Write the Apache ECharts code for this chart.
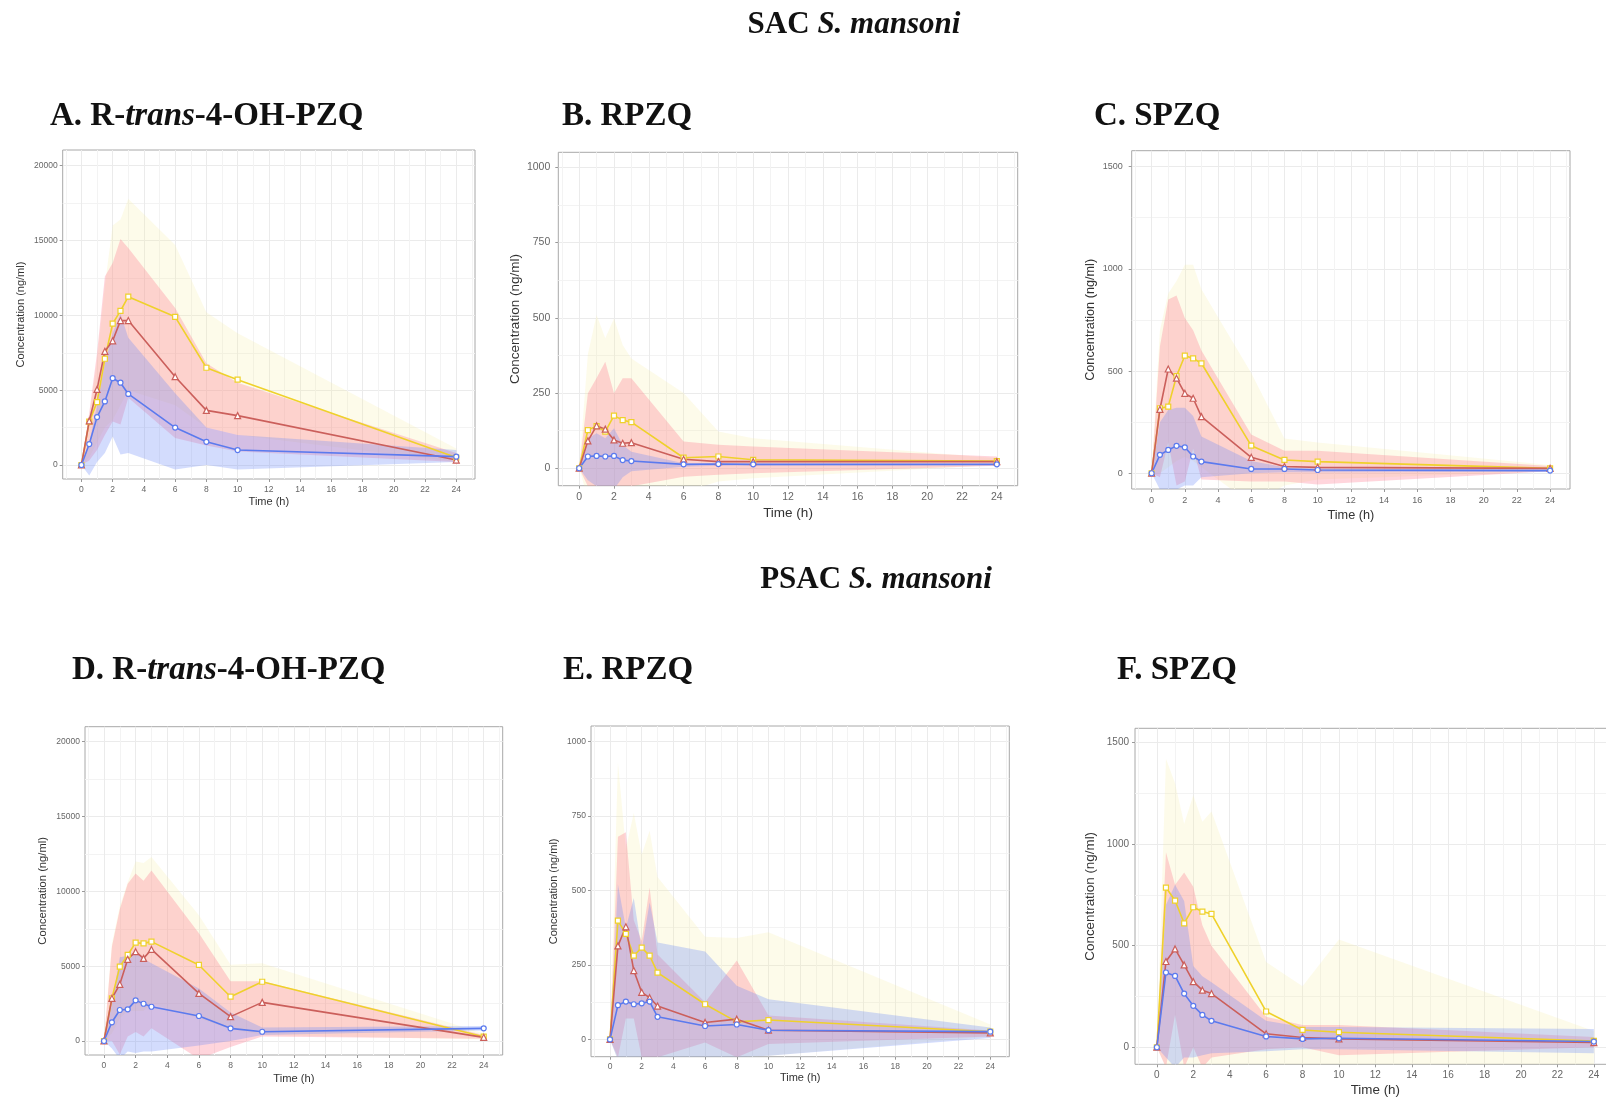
<!DOCTYPE html>
<html>
<head>
<meta charset="utf-8">
<title>SAC / PSAC S. mansoni</title>
<script src="https://cdn.jsdelivr.net/npm/echarts@6.0.0/dist/echarts.min.js"></script>
<style>
  html, body { margin: 0; padding: 0; background: #fff; }
  #chart { width: 1606px; height: 1099px; }
</style>
</head>
<body>
<div id="chart"></div>
<script>
// sampling times (h)
const time = [0, 0.5, 1, 1.5, 2, 2.5, 3, 6, 8, 10, 24]

// axis breaks
const xTicks = [0, 2, 4, 6, 8, 10, 12, 14, 16, 18, 20, 22, 24]
const xMinor = [-1, 1, 3, 5, 7, 9, 11, 13, 15, 17, 19, 21, 23, 25]
const yTicksOH = [0, 5000, 10000, 15000, 20000]
const yMinorOH = [2500, 7500, 12500, 17500]
const yTicksR = [0, 250, 500, 750, 1000]
const yMinorR = [125, 375, 625, 875]
const yTicksS = [0, 500, 1000, 1500]
const yMinorS = [250, 750, 1250]

// A. R-trans-4-OH-PZQ (SAC)
const aYellow = [0, 2900, 4200, 7100, 9450, 10300, 11250, 9900, 6500, 5700, 500]
const aRed = [0, 2950, 5050, 7600, 8300, 9650, 9650, 5900, 3650, 3300, 330]
const aBlue = [0, 1400, 3200, 4250, 5800, 5500, 4750, 2500, 1550, 1000, 560]
const aYellowLo = [0, 500, 1500, 2500, 3000, 4000, 5000, 4000, 2500, 2000, 200]
const aYellowHi = [0, 3200, 7000, 12000, 16000, 16400, 17800, 14700, 10200, 8800, 1100]
const aRedLo = [0, 300, 1000, 2000, 2900, 2700, 4500, 1800, 1300, 900, 200]
const aRedHi = [0, 3500, 7500, 12600, 13500, 15100, 14500, 10500, 6800, 5500, 800]
const aBlueLo = [0, -700, 200, 800, 1900, 700, 800, -300, 0, -300, 200]
const aBlueHi = [0, 1500, 4000, 6800, 8800, 10100, 8500, 4800, 2500, 2000, 1000]

// B. RPZQ (SAC)
const bYellow = [0, 127, 140, 122, 175, 160, 153, 35, 39, 28, 24]
const bRed = [0, 91, 141, 130, 94, 83, 85, 30, 22, 22, 22]
const bBlue = [0, 39, 41, 39, 41, 27, 24, 13, 14, 13, 13]
const bYellowLo = [0, -100, -100, -100, -100, -100, -100, -80, -44, -33, 11]
const bYellowHi = [0, 380, 509, 432, 498, 410, 365, 250, 122, 100, 33]
const bRedLo = [0, -60, -60, -60, -60, -60, -60, -28, -22, -17, 8]
const bRedHi = [0, 249, 300, 354, 249, 299, 299, 89, 78, 72, 39]
const bBlueLo = [0, -40, -60, -70, -70, -30, -10, 5, 8, 9, 10]
const bBlueHi = [0, 100, 116, 100, 133, 77, 55, 17, 16, 15, 15]

// C. SPZQ (SAC)
const cYellow = [0, 318, 326, 475, 575, 562, 538, 135, 65, 57, 24]
const cRed = [0, 313, 510, 465, 391, 367, 277, 78, 33, 29, 24]
const cBlue = [0, 90, 114, 134, 127, 82, 57, 21, 21, 16, 13]
const cYellowLo = [0, 0, 30, 60, 80, 60, 30, -150, -60, -30, 10]
const cYellowHi = [0, 700, 880, 940, 1020, 1020, 900, 490, 170, 150, 40]
const cRedLo = [0, -20, 150, -60, -40, 120, -30, -40, -40, -55, 10]
const cRedHi = [0, 620, 850, 870, 760, 700, 600, 190, 110, 110, 35]
const cBlueLo = [0, -80, -100, -80, -60, -60, -20, 0, 5, 5, 8]
const cBlueHi = [0, 250, 310, 320, 320, 280, 180, 60, 30, 25, 18]

// D. R-trans-4-OH-PZQ (PSAC)
const dYellow = [0, 2850, 4970, 5750, 6570, 6525, 6640, 5080, 2960, 3960, 290]
const dRed = [0, 2850, 3790, 5460, 5970, 5520, 6120, 3180, 1630, 2580, 245]
const dBlue = [0, 1250, 2070, 2115, 2715, 2490, 2290, 1670, 845, 620, 845]
const dYellowLo = [0, 500, 1500, 2000, 2000, 2000, 2500, 1500, 800, 400, 100]
const dYellowHi = [0, 6500, 9000, 10600, 12000, 11900, 12300, 8400, 5100, 5200, 500]
const dRedLo = [0, 0, -900, 300, 600, 300, 850, -1200, -400, 300, 150]
const dRedHi = [0, 6300, 8800, 10500, 11200, 10700, 11400, 7200, 4000, 4000, 400]
const dBlueLo = [0, -500, -1200, -700, -800, -700, -700, -300, 0, 400, 700]
const dBlueHi = [0, 2500, 5600, 5700, 6000, 5500, 5200, 3500, 1900, 900, 1000]

// E. RPZQ (PSAC)
const eYellow = [0, 399, 354, 281, 308, 281, 224, 118, 59, 65, 26]
const eRed = [0, 314, 378, 231, 158, 140, 112, 57, 68, 31, 22]
const eBlue = [0, 115, 127, 118, 121, 127, 76, 45, 50, 31, 26]
const eYellowLo = [0, -70, -70, -70, -70, -70, -70, -70, -60, -55, 10]
const eYellowHi = [0, 930, 640, 760, 620, 700, 545, 345, 340, 360, 50]
const eRedLo = [0, -60, 70, 70, -60, -60, -60, -10, -60, -15, 10]
const eRedHi = [0, 680, 695, 400, 330, 510, 285, 125, 265, 80, 30]
const eBlueLo = [0, -70, -70, -70, -70, -70, -70, -70, -60, -55, 5]
const eBlueHi = [0, 520, 375, 475, 300, 460, 325, 295, 180, 135, 40]

// F. SPZQ (PSAC)
const fYellow = [0, 786, 722, 610, 689, 668, 656, 176, 85, 74, 31]
const fRed = [0, 422, 484, 405, 323, 281, 264, 66, 48, 41, 23]
const fBlue = [0, 368, 351, 264, 204, 159, 130, 53, 41, 44, 28]
const fYellowLo = [0, -100, -100, -100, -100, -100, -100, -100, -100, -100, -100]
const fYellowHi = [0, 1420, 1300, 1100, 1240, 1110, 1160, 420, 300, 530, 80]
const fRedLo = [0, -100, 160, -100, 0, -100, -50, -10, 0, -40, 0]
const fRedHi = [0, 960, 800, 860, 790, 600, 500, 150, 110, 110, 50]
const fBlueLo = [0, -50, -100, -50, -50, -40, -30, -20, -10, -10, -30]
const fBlueHi = [0, 700, 800, 720, 400, 350, 320, 130, 100, 100, 90]

const lineColor = { yellow: '#EFD12B', red: '#CB5F5B', blue: '#5B7AEE' }
const bandColor = {
  yellow: 'rgba(245,235,160,0.22)',
  red: 'rgba(255,115,140,0.30)',
  blue: 'rgba(110,140,250,0.30)',
}
const markers = { yellow: ['rect', 5], red: ['triangle', 6], blue: ['circle', 5] }

// layout of each panel (grid rect in px, y range, font sizes)
const panels = [
  { rect: [62.7, 150, 412.3, 329], y: [-935, 21050], yTicks: yTicksOH, yMinor: yMinorOH,
    tick: 8.5, name: 11, xGap: 17, yGap: 36, xMargin: 6, yMargin: 5,
    series: [aYellow, aRed, aBlue], bands: [[aYellowLo, aYellowHi], [aRedLo, aRedHi], [aBlueLo, aBlueHi]] },
  { rect: [558.3, 152.3, 459.4, 333.4], y: [-58, 1050], yTicks: yTicksR, yMinor: yMinorR,
    tick: 10.5, name: 13.5, xGap: 21, yGap: 36, xMargin: 6, yMargin: 8,
    series: [bYellow, bRed, bBlue], bands: [[bYellowLo, bYellowHi], [bRedLo, bRedHi], [bBlueLo, bBlueHi]] },
  { rect: [1131.7, 150.7, 438.3, 338.3], y: [-77, 1578], yTicks: yTicksS, yMinor: yMinorS,
    tick: 9, name: 12.7, xGap: 20, yGap: 35, xMargin: 7, yMargin: 9,
    series: [cYellow, cRed, cBlue], bands: [[cYellowLo, cYellowHi], [cRedLo, cRedHi], [cBlueLo, cBlueHi]] },
  { rect: [85, 726.7, 417.7, 328.3], y: [-935, 21000], yTicks: yTicksOH, yMinor: yMinorOH,
    tick: 8.5, name: 11.2, xGap: 18, yGap: 37, xMargin: 6, yMargin: 5,
    series: [dYellow, dRed, dBlue], bands: [[dYellowLo, dYellowHi], [dRedLo, dRedHi], [dBlueLo, dBlueHi]] },
  { rect: [591, 726, 418.3, 330.7], y: [-58, 1052], yTicks: yTicksR, yMinor: yMinorR,
    tick: 8.5, name: 11, xGap: 16, yGap: 32, xMargin: 5, yMargin: 5,
    series: [eYellow, eRed, eBlue], bands: [[eYellowLo, eYellowHi], [eRedLo, eRedHi], [eBlueLo, eBlueHi]] },
  { rect: [1135, 728.3, 480.7, 336], y: [-84, 1570], yTicks: yTicksS, yMinor: yMinorS,
    tick: 10, name: 13.4, xGap: 20, yGap: 38, xMargin: 6, yMargin: 6,
    series: [fYellow, fRed, fBlue], bands: [[fYellowLo, fYellowHi], [fRedLo, fRedHi], [fBlueLo, fBlueHi]] },
]

const groups = ['yellow', 'red', 'blue']
const sansFont = '"Liberation Sans", Arial, sans-serif'
const serifFont = '"Liberation Serif", "DejaVu Serif", serif'

const grid = []
const xAxis = []
const yAxis = []
const series = []

panels.forEach((p, i) => {
  grid.push({
    left: p.rect[0], top: p.rect[1], width: p.rect[2], height: p.rect[3],
    show: true, backgroundColor: '#fff', borderColor: '#a8a8a8', borderWidth: 1,
    containLabel: false, outerBoundsMode: 'none',
  })

  // main x axis: labels, ticks, major grid
  xAxis.push({
    type: 'value', gridIndex: i, min: -1.2, max: 25.2,
    name: 'Time (h)', nameLocation: 'middle', nameGap: p.xGap, nameMoveOverlap: false,
    nameTextStyle: { fontFamily: sansFont, fontSize: p.name, color: '#333' },
    axisLine: { show: false, onZero: false },
    axisTick: { show: true, length: 3, customValues: xTicks, lineStyle: { color: '#999' } },
    axisLabel: { customValues: xTicks, margin: p.xMargin, fontFamily: sansFont, fontSize: p.tick, color: '#666', formatter: v => String(v) },
    splitLine: { show: true, lineStyle: { color: '#ebebeb', width: 1 } },
  })
  // helper x axis: minor grid only
  xAxis.push({
    type: 'value', gridIndex: i, min: -1.2, max: 25.2,
    axisLine: { show: false, onZero: false },
    axisTick: { show: false, customValues: xMinor },
    axisLabel: { show: false },
    splitLine: { show: true, lineStyle: { color: '#f3f3f3', width: 1 } },
  })
  yAxis.push({
    type: 'value', gridIndex: i, min: p.y[0], max: p.y[1],
    name: 'Concentration (ng/ml)', nameLocation: 'middle', nameGap: p.yGap, nameMoveOverlap: false,
    nameTextStyle: { fontFamily: sansFont, fontSize: p.name, color: '#333' },
    axisLine: { show: false, onZero: false },
    axisTick: { show: true, length: 3, customValues: p.yTicks, lineStyle: { color: '#999' } },
    axisLabel: { customValues: p.yTicks, margin: p.yMargin, fontFamily: sansFont, fontSize: p.tick, color: '#666', formatter: v => String(v) },
    splitLine: { show: true, lineStyle: { color: '#ebebeb', width: 1 } },
  })
  yAxis.push({
    type: 'value', gridIndex: i, min: p.y[0], max: p.y[1],
    axisLine: { show: false, onZero: false },
    axisTick: { show: false, customValues: p.yMinor },
    axisLabel: { show: false },
    splitLine: { show: true, lineStyle: { color: '#f3f3f3', width: 1 } },
  })

  // ribbons (polygon between lower and upper bound)
  p.bands.forEach((band, g) => {
    const lo = band[0]
    const hi = band[1]
    series.push({
      type: 'custom', xAxisIndex: 2 * i, yAxisIndex: 2 * i, clip: true, silent: true, z: 1,
      data: [[0, 0]],
      renderItem: (params, api) => {
        const pts = []
        time.forEach((t, k) => pts.push(api.coord([t, hi[k]])))
        for (let k = time.length - 1; k >= 0; k--) pts.push(api.coord([time[k], lo[k]]))
        return { type: 'polygon', shape: { points: pts }, style: { fill: bandColor[groups[g]] } }
      },
    })
  })

  // mean lines with hollow markers
  p.series.forEach((vals, g) => {
    const key = groups[g]
    series.push({
      type: 'line', xAxisIndex: 2 * i, yAxisIndex: 2 * i, silent: true, z: 3,
      data: time.map((t, k) => [t, vals[k]]),
      symbol: markers[key][0], symbolSize: markers[key][1], showAllSymbol: true,
      itemStyle: { color: '#fff', borderColor: lineColor[key], borderWidth: 1.2 },
      lineStyle: { color: lineColor[key], width: 1.6 },
    })
  })
})

const titleRich = size => ({
  b: { fontFamily: serifFont, fontWeight: 'bold', fontSize: size, fill: '#111', lineHeight: size },
  i: { fontFamily: serifFont, fontWeight: 'bold', fontStyle: 'italic', fontSize: size, fill: '#111', lineHeight: size },
})

const titles = [
  ['{b|SAC }{i|S. mansoni}', 854, 25, 'center', 31],
  ['{b|PSAC }{i|S. mansoni}', 876, 580, 'center', 31],
  ['{b|A. R-}{i|trans}{b|-4-OH-PZQ}', 50, 116, 'left', 33],
  ['{b|B. RPZQ}', 562, 116, 'left', 33],
  ['{b|C. SPZQ}', 1094, 116, 'left', 33],
  ['{b|D. R-}{i|trans}{b|-4-OH-PZQ}', 72, 670, 'left', 33],
  ['{b|E. RPZQ}', 563, 670, 'left', 33],
  ['{b|F. SPZQ}', 1117, 670, 'left', 33],
]

const chart = echarts.init(document.getElementById('chart'))
chart.setOption({
  animation: false,
  backgroundColor: '#fff',
  grid, xAxis, yAxis, series,
  graphic: titles.map(t => ({
    type: 'text', x: t[1], y: t[2], silent: true,
    style: { text: t[0], rich: titleRich(t[4]), align: t[3], verticalAlign: 'middle' },
  })),
})
</script>
</body>
</html>
